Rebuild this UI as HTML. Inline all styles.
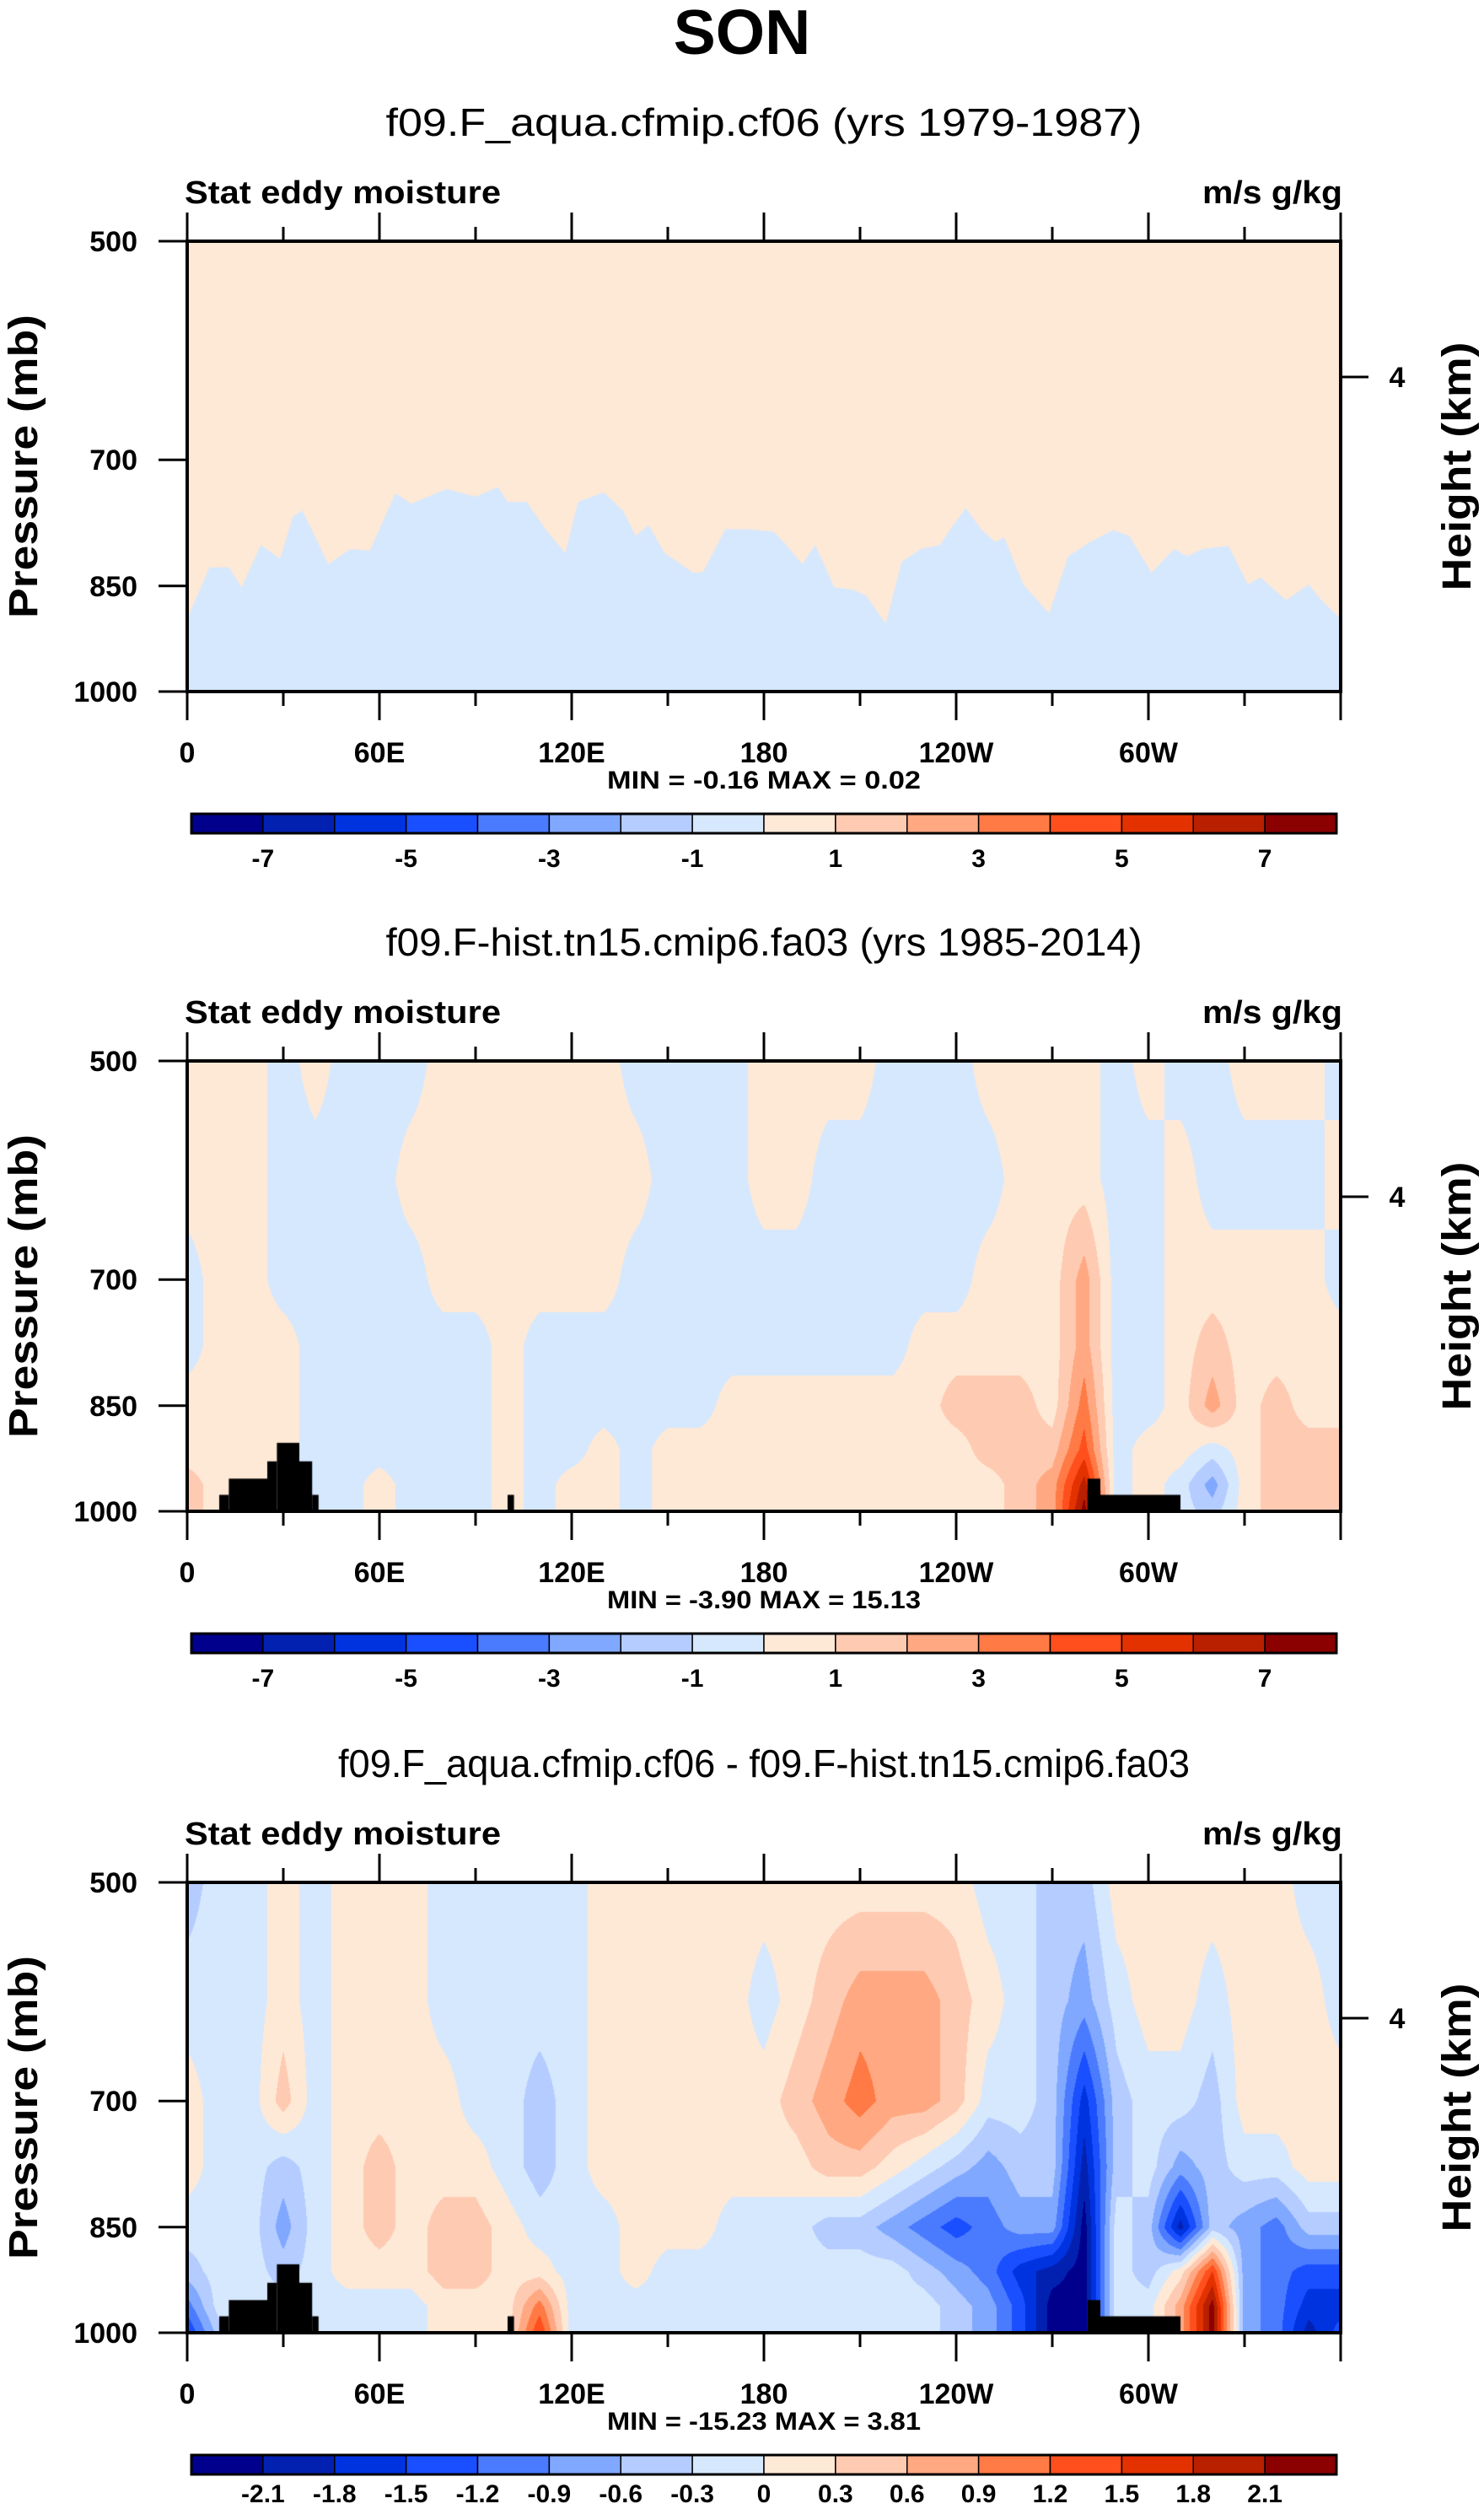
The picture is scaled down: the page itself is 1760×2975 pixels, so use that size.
<!DOCTYPE html>
<html><head><meta charset="utf-8">
<style>
html,body{margin:0;padding:0;background:#fff;}
#wrap{position:relative;width:1760px;height:2975px;overflow:hidden;}
canvas{position:absolute;}
svg{position:absolute;left:0;top:0;}
text{font-family:"Liberation Sans",Arial,sans-serif;fill:#000;}
</style></head>
<body>
<div id="wrap">
<canvas id="c0" width="1368" height="534" style="left:222px;top:286px"></canvas>
<canvas id="c1" width="1368" height="534" style="left:222px;top:1258px"></canvas>
<canvas id="c2" width="1368" height="534" style="left:222px;top:2232px"></canvas>
<svg id="ov" width="1760" height="2975" xmlns="http://www.w3.org/2000/svg">
<text x="880" y="64" text-anchor="middle" font-size="75" font-weight="bold">SON</text>
</svg>
</div>
<script>
// ---- data ----
const lons = [0,10,20,30,40,50,60,70,80,90,100,110,120,130,140,150,160,170,180,190,200,210,220,230,240,250,260,270,280,290,300,310,320,330,340,350,360];
const levels = [500,600,700,775,850,910,960,1000];
// panel 1: boundary pressure of the negative (blue) region
const bLon = [0,7,13,17,23,29,33,36,44,51,57,65,70,81,90,97,100,106,112,118,122,130,136,140,144,149,158,161,168,175,183,187,192,196,202,208,212,218,223,229,235,238,243,248,252,255,261,269,275,282,289,294,301,308,312,317,325,331,335,343,350,354,360];
const bP = [894,826,826,852,798,815,764,757,822,803,805,737,749,732,741,730,747,747,780,808,747,736,757,787,774,808,833,832,779,779,782,798,822,798,852,855,863,901,819,803,798,780,754,780,794,789,848,887,812,794,780,787,833,803,812,803,799,848,839,869,848,869,894];
const P=0.5, B=-0.5;
const g2r500=[P,P,P,B,P,B,B,B,P,P,P,P,P,P,B,B,B,B,P,P,P,P,B,B,B,P,P,P,P,B,P,B,B,P,P,P,B];
const g2r600=[P,P,P,B,B,B,B,P,P,P,P,P,P,P,P,B,B,B,P,P,B,B,B,B,B,B,P,P,P,B,B,P,B,B,B,B,P];
const g2r700=[B,P,P,B,B,B,B,B,P,P,P,P,P,P,B,B,B,B,B,B,B,B,B,B,B,P,P,P,2.5,B,B,P,P,P,P,P,B];
const g2r775=[B,P,P,P,B,B,B,B,B,B,P,B,B,B,B,B,B,B,B,B,B,B,B,P,P,P,P,P,2.5,B,B,P,1.5,P,P,P,P];
const g2r850=[P,P,P,P,B,B,B,B,B,B,P,B,B,B,B,B,B,P,P,P,P,P,P,P,1.5,1.5,1.5,P,3.5,B,B,P,2.5,P,1.5,P,P];
const g2r910=[P,P,P,P,B,B,B,B,B,B,P,B,B,P,B,P,P,P,P,P,P,P,P,P,P,1.5,1.5,1.5,4.5,B,P,P,B,P,1.5,1.5,1.5];
const g2r960=[1.5,P,P,P,B,B,P,B,B,B,P,B,P,P,B,P,P,P,P,P,P,P,P,P,P,P,1.5,2.5,6.5,B,P,B,-2.5,P,1.5,1.5,1.5];
const g2r1000=[1.5,P,P,P,B,B,P,B,B,B,P,B,P,P,B,P,P,P,P,P,P,P,P,P,P,P,1.5,2.5,7.5,B,P,B,-1.5,P,1.5,1.5,1.5];
const g3r500=[-.45,-.15,-.15,.15,-.15,.15,.15,.15,-.15,-.15,-.15,-.15,-.15,.15,.15,.15,.15,.15,.15,.15,.15,.15,.15,.15,.15,-.15,-.15,-.45,-.45,.15,.15,.15,.15,.15,.15,-.15,-.15];
const g3r600=[-.15,-.15,-.15,.15,-.15,.15,.15,.15,-.15,-.15,-.15,-.15,-.15,.15,.15,.15,.15,.15,-.15,.15,.45,.75,.75,.75,.45,.15,-.15,-.45,-.75,-.15,.15,.15,-.15,.15,.15,.15,-.15];
const g3r700=[.15,-.15,-.15,.45,-.15,.15,.15,.15,.15,-.15,-.15,-.45,-.15,.15,.15,.15,.15,.15,.15,.45,.75,1.05,.75,.75,.45,-.15,-.15,-.45,-1.65,-.45,-.15,-.15,-.45,.15,.15,.15,.15];
const g3r775=[.15,-.15,-.15,-.45,-.15,.15,.45,.15,.15,.15,-.15,-.45,-.15,.15,.15,.15,.15,.15,.15,.15,.45,.45,.15,-.15,-.45,-.75,-.45,-.45,-1.95,-.45,-.15,-.75,-.45,-.15,-.15,.15,.15];
const g3r850=[-.15,-.15,-.15,-.75,-.15,.15,.45,.15,.45,.45,.15,-.15,-.15,-.15,.15,.15,.15,-.15,-.15,-.15,-.45,-.45,-.75,-1.05,-1.35,-1.05,-.75,-.75,-2.25,-.15,-.45,-1.95,-.45,-.75,-1.05,-.45,-.45];
const g3r910=[-.45,-.15,-.15,-.45,-.15,.15,.15,.15,.45,.45,.15,.15,-.15,-.15,.15,-.15,-.15,-.15,-.15,-.15,-.15,-.15,-.15,-.45,-.75,-1.05,-1.65,-1.95,-2.25,-.15,-.45,.15,1.5,-.75,-1.05,-1.35,-1.35];
const g3r960=[-1.05,-.15,-.15,-.15,-.15,-.15,-.15,-.15,.15,.15,.15,1.05,-.15,-.15,-.15,-.15,-.15,-.15,-.15,-.15,-.15,-.15,-.15,-.15,-.45,-.75,-1.35,-2.25,-2.25,-.15,-.15,.75,2.25,-.75,-1.05,-1.65,-1.65];
const g3r1000=[-1.5,-.45,-.15,-.15,-.15,-.15,-.15,-.15,.15,.15,.15,1.5,-.15,-.15,-.15,-.15,-.15,-.15,-.15,-.15,-.15,-.15,-.15,-.15,-.45,-.75,-1.35,-2.25,-2.25,-.15,-.15,.75,2.25,-.75,-1.05,-1.95,-1.35];
// terrain blocks: lon start, lon end, top pressure
const tLon0 = [10,13,25,28,35,39,100,281,285];
const tLon1 = [13,25,28,35,39,41,102,285,310];
const tTop  = [975,951,926,900,926,975,975,951,975];
const cbColors = ['#00008c','#0321b0','#0033e0','#1a4fff','#4a7bff','#80a8ff','#b4ccff','#d6e8fe','#fee9d7','#fecbb2','#ffa882','#ff7a45','#ff4f1c','#e33200','#b82000','#8b0000'];
const cbLabels12 = ['-7','-5','-3','-1','1','3','5','7'];
const cbLabels3 = ['-2.1','-1.8','-1.5','-1.2','-0.9','-0.6','-0.3','0','0.3','0.6','0.9','1.2','1.5','1.8','2.1'];
const xTickLabels = ['0','60E','120E','180','120W','60W'];
const yTickVals = [500,700,850,1000];
const titles = ['f09.F_aqua.cfmip.cf06 (yrs 1979-1987)','f09.F-hist.tn15.cmip6.fa03 (yrs 1985-2014)','f09.F_aqua.cfmip.cf06 - f09.F-hist.tn15.cmip6.fa03'];
const minmax = ['MIN =  -0.16  MAX =   0.02','MIN =  -3.90  MAX =  15.13','MIN = -15.23  MAX =   3.81'];

// ---- geometry ----
const PX0=222, PX1=1590, PH=534, PW=1368;
const tops=[286,1258,2232];
function xOf(lon){return PX0+(lon/360)*PW;}
function yOf(p,top){return top+PH*Math.log2(p/500);}
function hex(c){return [parseInt(c.slice(1,3),16),parseInt(c.slice(3,5),16),parseInt(c.slice(5,7),16)];}
const rgb=cbColors.map(hex);

function drawGrid(id,grid,step,terrain){
  const cv=document.getElementById(id),ctx=cv.getContext('2d');
  const img=ctx.createImageData(PW,PH);
  for(let py=0;py<PH;py++){
    const p=500*Math.pow(2,(py+0.5)/PH);
    let i=0;while(i<levels.length-2&&p>levels[i+1])i++;
    const t=Math.min(1,Math.max(0,Math.log(p/levels[i])/Math.log(levels[i+1]/levels[i])));
    for(let px=0;px<PW;px++){
      const lon=(px+0.5)/PW*360;
      let j=Math.min(35,Math.floor(lon/10));const s=(lon-lons[j])/10;
      const a=grid[i][j]*(1-s)+grid[i][j+1]*s, b=grid[i+1][j]*(1-s)+grid[i+1][j+1]*s;
      const v=a*(1-t)+b*t;
      let k=Math.floor(v/step)+8;k=Math.max(0,Math.min(15,k));
      const o=(py*PW+px)*4;img.data[o]=rgb[k][0];img.data[o+1]=rgb[k][1];img.data[o+2]=rgb[k][2];img.data[o+3]=255;
    }
  }
  ctx.putImageData(img,0,0);
  if(terrain){ctx.fillStyle='#000';
    for(let n=0;n<tLon0.length;n++){const x0=xOf(tLon0[n])-PX0,x1=xOf(tLon1[n])-PX0,y0=yOf(tTop[n],0);ctx.fillRect(x0,y0,x1-x0,PH-y0);}}
}
(function(){
  const cv=document.getElementById('c0'),ctx=cv.getContext('2d');
  ctx.fillStyle=cbColors[8];ctx.fillRect(0,0,PW,PH);
  ctx.fillStyle=cbColors[7];ctx.beginPath();ctx.moveTo(0,PH);
  for(let n=0;n<bLon.length;n++)ctx.lineTo(xOf(bLon[n])-PX0,yOf(bP[n],0));
  ctx.lineTo(PW,PH);ctx.closePath();ctx.fill();
})();
drawGrid('c1',[g2r500,g2r600,g2r700,g2r775,g2r850,g2r910,g2r960,g2r1000],1,true);
drawGrid('c2',[g3r500,g3r600,g3r700,g3r775,g3r850,g3r910,g3r960,g3r1000],0.3,true);

// ---- annotations ----
const NS='http://www.w3.org/2000/svg',svg=document.getElementById('ov');
function el(tag,attrs,txt){const e=document.createElementNS(NS,tag);for(const k in attrs)e.setAttribute(k,attrs[k]);if(txt!==undefined)e.textContent=txt;svg.appendChild(e);return e;}
for(let q=0;q<3;q++){
  const top=tops[q],bot=top+PH,dy=top-286;
  let e;
  e=el('text',{x:906,y:161+dy,'text-anchor':'middle','font-size':46,textLength:897,lengthAdjust:'spacingAndGlyphs'},titles[q]);
  if(q===2){e.setAttribute('textLength',1010);}
  
  
  e=el('text',{x:219,y:241+dy,'font-size':38,'font-weight':'bold',textLength:375,lengthAdjust:'spacingAndGlyphs'},'Stat eddy moisture');
  
  
  e=el('text',{x:1592,y:241+dy,'text-anchor':'end','font-size':38,'font-weight':'bold',textLength:166,lengthAdjust:'spacingAndGlyphs'},'m/s g/kg');
  
  
  e=el('rect',{x:PX0,y:top,width:PW,height:PH,fill:'none',stroke:'#000','stroke-width':4});
  
  
  for(let lon=0;lon<=360;lon+=30){
    const x=xOf(lon),maj=lon%60===0,len=maj?34:17;
    e=el('line',{x1:x,x2:x,y1:top,y2:top-len,stroke:'#000','stroke-width':3});
    
    
    e=el('line',{x1:x,x2:x,y1:bot,y2:bot+len,stroke:'#000','stroke-width':3});
    
    
  }
  xTickLabels.forEach((t,n)=>{const e2=el('text',{x:xOf(n*60),y:bot+84,'text-anchor':'middle','font-size':34,'font-weight':'bold'},t);
    
    });
  yTickVals.forEach(v=>{const y=yOf(v,top);
    const l=el('line',{x1:PX0-34,x2:PX0,y1:y,y2:y,stroke:'#000','stroke-width':3});
    
    
    const t=el('text',{x:163,y:y+12,'text-anchor':'end','font-size':34,'font-weight':'bold'},String(v));
    
    });
  e=el('line',{x1:PX1,x2:PX1+33,y1:top+161,y2:top+161,stroke:'#000','stroke-width':3});
  
  
  e=el('text',{x:1657,y:top+173,'text-anchor':'middle','font-size':34,'font-weight':'bold'},'4');
  
  
  e=el('text',{x:0,y:0,transform:`translate(44,${top+267}) rotate(-90)`,'text-anchor':'middle','font-size':48,'font-weight':'bold',textLength:360,lengthAdjust:'spacingAndGlyphs'},'Pressure (mb)');
  
  
  e=el('text',{x:0,y:0,transform:`translate(1744,${top+267}) rotate(-90)`,'text-anchor':'middle','font-size':48,'font-weight':'bold',textLength:295,lengthAdjust:'spacingAndGlyphs'},'Height (km)');
  
  
  e=el('text',{x:906,y:bot+115,'text-anchor':'middle','font-size':30,'font-weight':'bold','xml:space':'preserve',textLength:372,lengthAdjust:'spacingAndGlyphs'},minmax[q]);
  
  
  // colorbar
  const cx0=227,cx1=1585,cw=(cx1-cx0)/16,cy=top+679,ch=23;
  for(let k=0;k<16;k++){
    const r=el('rect',{x:cx0+k*cw,y:cy,width:cw,height:ch,fill:cbColors[k],stroke:'#000','stroke-width':1.5});
    
    
  }
  e=el('rect',{x:cx0,y:cy,width:cx1-cx0,height:ch,fill:'none',stroke:'#000','stroke-width':3});
  
  
  if(q<2){cbLabels12.forEach((t,n)=>{const e3=el('text',{x:cx0+(1+2*n)*cw,y:cy+63,'text-anchor':'middle','font-size':30,'font-weight':'bold'},t);
      
      });}
  else{cbLabels3.forEach((t,n)=>{const e3=el('text',{x:cx0+(1+n)*cw,y:cy+56,'text-anchor':'middle','font-size':30,'font-weight':'bold'},t);
      
      });}
}
</script>
</body></html>
